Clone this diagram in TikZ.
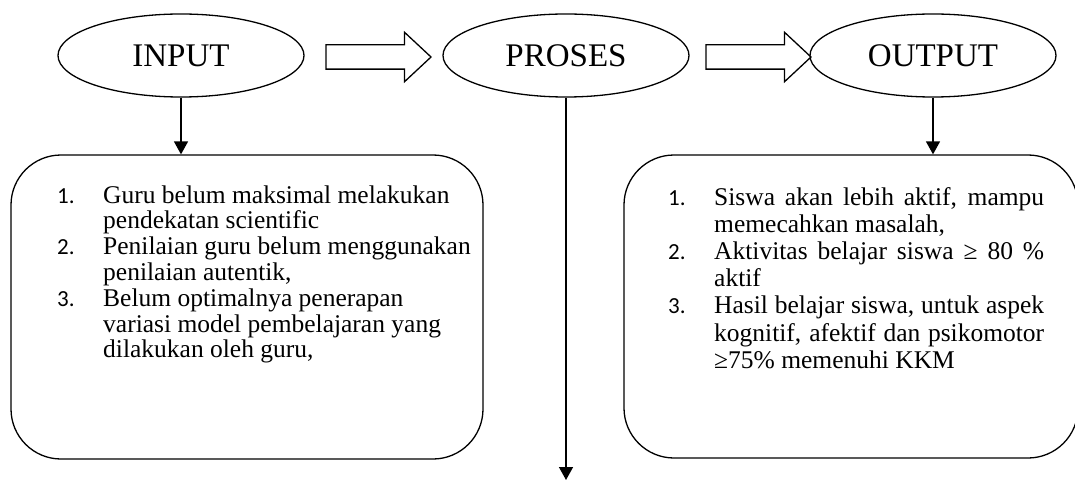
\documentclass[tikz,border=0pt]{standalone}
\usepackage{fontspec}
\setmainfont{Liberation Serif}
\newfontfamily\numfont{Carlito}
\usetikzlibrary{shapes.geometric,shapes.arrows,arrows.meta}

\newcommand{\numitem}[1]{\makebox[46pt][l]{\numfont\fontsize{23}{23}\selectfont #1}}
\newcommand{\jline}[1]{\makebox[330pt][s]{#1}}

\begin{document}
\begin{tikzpicture}[x=1pt, y=-1pt,
    phase/.style={ellipse, draw, line width=1.3pt, minimum width=246pt, minimum height=83pt, inner sep=0pt, font=\fontsize{33}{33}\selectfont},
    blockarrow/.style={single arrow, draw, line width=1.3pt, inner xsep=0pt, inner ysep=11.5pt, minimum height=105pt, single arrow head extend=12.5pt, single arrow tip angle=86},
    listbox/.style={rectangle, rounded corners=50pt, draw, line width=1.3pt},
    itemtext/.style={inner sep=0pt, anchor=base west},
    flow/.style={line width=1.5pt, -{Triangle[length=13pt,width=14pt]}}]
    \useasboundingbox (0,0) rectangle (1075,481);

    % Nodes
    \node [phase] (input) at (181,55.5) {INPUT};
    \node [phase] (proses) at (566,55.5) {PROSES};
    \node [phase] (output) at (933,55.5) {OUTPUT};
    \node [blockarrow] (arr1) at (372,57) {};
    \node [blockarrow] (arr2) at (752,57) {};
    \node [listbox, minimum width=472pt, minimum height=304pt] (inbox) at (247,307) {};
    \node [listbox, minimum width=454pt, minimum height=303pt] (outbox) at (851,306.5) {};
    \coordinate (prosesend) at (566,480);

    % Lists
    \node [itemtext, font=\fontsize{25.5}{25.8}\selectfont] (intext) at (57,203) {%
      \begin{tabular}[t]{@{}l@{}l@{}}
        \numitem{1.} & Guru belum maksimal melakukan\\
         & pendekatan scientific\\
        \numitem{2.} & Penilaian guru belum menggunakan\\
         & penilaian autentik,\\
        \numitem{3.} & Belum optimalnya penerapan\\
         & variasi model pembelajaran yang\\
         & dilakukan oleh guru,
      \end{tabular}};
    \node [itemtext, font=\fontsize{25.5}{27.2}\selectfont] (outtext) at (668,205) {%
      \begin{tabular}[t]{@{}l@{}l@{}}
        \numitem{1.} & \jline{Siswa akan lebih aktif, mampu}\\
         & memecahkan masalah,\\
        \numitem{2.} & \jline{Aktivitas belajar siswa ≥ 80 \%}\\
         & aktif\\
        \numitem{3.} & \jline{Hasil belajar siswa, untuk aspek}\\
         & \jline{kognitif, afektif dan psikomotor}\\
         & ≥75\% memenuhi KKM
      \end{tabular}};

    % Path
    \draw [flow] (input) -- (inbox.north -| input);
    \draw [flow] (proses) -- (prosesend);
    \draw [flow] (output) -- (outbox.north -| output);
\end{tikzpicture}
\end{document}
